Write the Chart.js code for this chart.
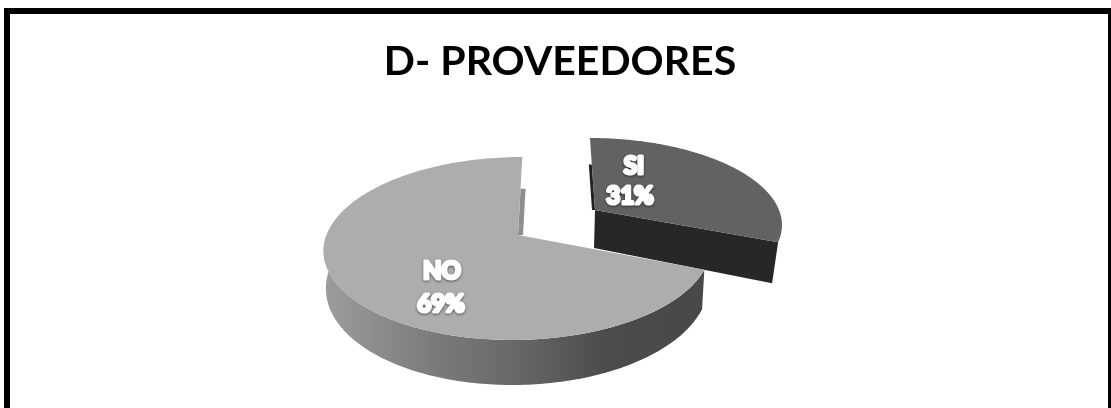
<!DOCTYPE html>
<html>
<head>
<meta charset="utf-8">
<style>html,body{margin:0;padding:0;background:#fff}canvas{display:block}</style>
<script src="https://cdn.jsdelivr.net/npm/chart.js@4"></script>
</head>
<body>
<canvas id="c" width="1111" height="408"></canvas>
<script>
const chartTitle = 'D- PROVEEDORES';
const categories = ['SI', 'NO'];
const values = [31, 69];
const percentLabels = ['31%', '69%'];

// Tilted-plane geometry of each slice: apex on screen, semi-axes, perspective and skew.
const sliceViews = [
  { ax: 595, ay: 210, a: 184, b: 82.6, k: 0.147, skew: 0.07, top: '#626262',
    face: '#272727', faceDrop: { x: -6, y: 41, apexX: -1, apexY: 38 },
    lip: { dx: -3, dy: 0, from: 0, to: 0.6, color: '#222222' },
    text: [634, 166, 630, 196] },
  { ax: 518, ay: 235, a: 191.5, b: 89.5, k: 0.1475, skew: -0.055, top: '#adadad',
    wall: [[0, '#9c9c9c'], [0.28, '#7c7c7c'], [0.52, '#666666'], [0.74, '#4c4c4c'], [1, '#484848']],
    lip: { dx: 5, dy: 0, from: 0, to: 0.56, color: '#8e8e8e' },
    text: [442, 271, 441, 304] }
];

function project(v, angle, r) {
  // Chart.js angles run clockwise from +x; y grows toward the viewer.
  const x = Math.cos(angle) * r, y = Math.sin(angle) * r;
  const w = 1 - v.k * y;
  const dy = v.b * y / w;
  return { x: v.ax + v.a * x / w + v.skew * dy, y: v.ay + dy, py: y };
}

function traceRim(ctx, v, from, to, move) {
  const steps = 160;
  for (let i = 0; i <= steps; i++) {
    const p = project(v, from + (to - from) * i / steps, 1);
    if (i === 0 && move) ctx.moveTo(p.x, p.y); else ctx.lineTo(p.x, p.y);
  }
}

function drawSlice(ctx, arc, v) {
  const s = arc.startAngle, e = arc.endAngle;
  const apex = project(v, s, 0);

  // Outer wall of the slice, for the part of the rim facing the viewer.
  if (v.wall) {
    const grad = ctx.createLinearGradient(326, 0, 702, 0);
    v.wall.forEach(st => grad.addColorStop(st[0], st[1]));
    const w0 = Math.max(s, 0), w1 = Math.min(e, Math.PI);
    ctx.beginPath();
    traceRim(ctx, v, w0, w1, true);
    const n = 160;
    for (let i = n; i >= 0; i--) {
      const t = w0 + (w1 - w0) * i / n;
      const p = project(v, t, 1);
      const depth = 36 + 9 * p.py;
      ctx.lineTo(p.x + (v.ax - 4 - p.x) * 0.012, p.y + depth);
    }
    ctx.closePath();
    ctx.fillStyle = grad;
    ctx.fill();
  }

  // Cut face exposed along the leading edge of an exploded slice.
  if (v.face) {
    const rim = project(v, e, 1);
    ctx.beginPath();
    ctx.moveTo(apex.x, apex.y);
    ctx.lineTo(rim.x, rim.y);
    ctx.lineTo(rim.x + v.faceDrop.x, rim.y + v.faceDrop.y);
    ctx.lineTo(apex.x + v.faceDrop.apexX, apex.y + v.faceDrop.apexY);
    ctx.closePath();
    ctx.fillStyle = v.face;
    ctx.fill();
  }

  // Narrow sliver of the cut wall seen beside the upright edge.
  const lipAngle = -Math.PI / 2;
  const l0 = project(v, lipAngle, v.lip.from), l1 = project(v, lipAngle, v.lip.to);
  ctx.beginPath();
  ctx.moveTo(l0.x, l0.y);
  ctx.lineTo(l1.x, l1.y);
  ctx.lineTo(l1.x + v.lip.dx, l1.y + v.lip.dy);
  ctx.lineTo(l0.x + v.lip.dx, l0.y + v.lip.dy);
  ctx.closePath();
  ctx.fillStyle = v.lip.color;
  ctx.fill();

  // Top surface.
  ctx.beginPath();
  ctx.moveTo(apex.x, apex.y);
  traceRim(ctx, v, s, e, false);
  ctx.closePath();
  ctx.fillStyle = v.top;
  ctx.fill();
}

function haloText(ctx, str, x, y) {
  ctx.save();
  ctx.font = 'bold 24px Lato, "Open Sans", sans-serif';
  ctx.textAlign = 'center';
  ctx.textBaseline = 'middle';
  ctx.lineJoin = 'round';
  ctx.lineWidth = 3.2;
  ctx.strokeStyle = '#ffffff';
  ctx.fillStyle = '#ffffff';
  ctx.shadowColor = 'rgba(0,0,0,0.55)';
  ctx.shadowBlur = 2.5;
  ctx.shadowOffsetY = 1;
  ctx.strokeText(str, x, y);
  ctx.shadowColor = 'transparent';
  ctx.fillText(str, x, y);
  ctx.restore();
}

const framePlugin = {
  id: 'frame',
  beforeDraw(chart) {
    const ctx = chart.ctx, H = chart.height;
    ctx.save();
    ctx.fillStyle = '#000';
    ctx.fillRect(4, 8, 1107, 6);
    ctx.fillRect(4, 8, 6, H - 8);
    ctx.fillRect(1108, 8, 3, H - 8);
    ctx.restore();
  }
};

const tiltedPie = {
  id: 'tiltedPie',
  beforeDatasetsDraw(chart) {
    const ctx = chart.ctx;
    const arcs = chart.getDatasetMeta(0).data;
    ctx.save();
    arcs.forEach((arc, i) => drawSlice(ctx, arc, sliceViews[i]));
    arcs.forEach((arc, i) => {
      const t = sliceViews[i].text;
      haloText(ctx, categories[i], t[0], t[1]);
      haloText(ctx, percentLabels[i], t[2], t[3]);
    });
    ctx.restore();
    return false;
  }
};

new Chart(document.getElementById('c'), {
  type: 'pie',
  data: { labels: categories, datasets: [{ data: values, backgroundColor: ['#626262', '#adadad'] }] },
  options: {
    responsive: false,
    animation: false,
    devicePixelRatio: 1,
    rotation: 0,
    layout: { padding: { left: 9 } },
    plugins: {
      legend: { display: false },
      tooltip: { enabled: false },
      title: {
        display: true,
        text: chartTitle,
        color: '#000',
        font: { family: 'Lato, "Open Sans", sans-serif', size: 41, weight: 'bold' },
        padding: { top: 37, bottom: 10 }
      }
    }
  },
  plugins: [framePlugin, tiltedPie]
});
</script>
</body>
</html>
